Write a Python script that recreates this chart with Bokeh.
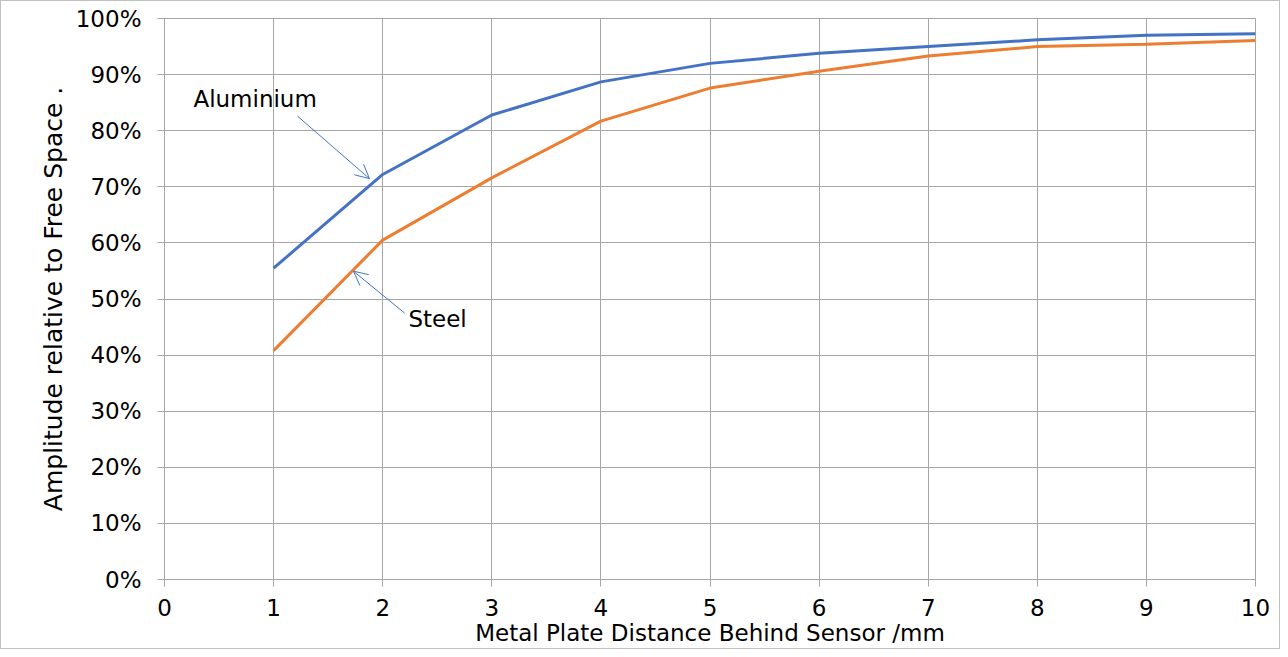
from bokeh.plotting import figure
from bokeh.models import (ColumnDataSource, NumeralTickFormatter, FixedTicker, Range1d,
                          Arrow, OpenHead, Label)
from bokeh.embed import file_html
from bokeh.resources import INLINE

distance_mm = [1, 2, 3, 4, 5, 6, 7, 8, 9, 10]
aluminium = [0.555, 0.722, 0.828, 0.887, 0.920, 0.938, 0.950, 0.962, 0.970, 0.973]
steel = [0.408, 0.605, 0.716, 0.817, 0.876, 0.906, 0.933, 0.950, 0.954, 0.961]
x_ticks = [0, 1, 2, 3, 4, 5, 6, 7, 8, 9, 10]
y_ticks = [0.0, 0.1, 0.2, 0.3, 0.4, 0.5, 0.6, 0.7, 0.8, 0.9, 1.0]

FONT = "DejaVu Sans"
GRID = "#a6a6a6"
BLUE = "#4472C4"
ORANGE = "#ED7D31"

src = ColumnDataSource(dict(x=distance_mm, al=aluminium, st=steel))

p = figure(width=1280, height=649, output_backend="svg", toolbar_location=None,
           x_range=Range1d(0, 10), y_range=Range1d(0, 1),
           min_border_left=163, min_border_right=26, min_border_top=17, min_border_bottom=71)
p.styles = {"border": "1px solid #c0c0c0", "box-sizing": "border-box"}
p.background_fill_color = "white"
p.border_fill_color = "white"
p.outline_line_color = GRID
p.outline_line_width = 1

p.line("x", "al", source=src, line_color=BLUE, line_width=3)
p.line("x", "st", source=src, line_color=ORANGE, line_width=3)

for ax in (p.xaxis[0], p.yaxis[0]):
    ax.axis_line_color = GRID
    ax.major_tick_line_color = GRID
    ax.major_tick_out = 7
    ax.major_tick_in = 0
    ax.minor_tick_line_color = None
    ax.major_label_text_font = FONT
    ax.major_label_text_font_size = "23px"
    ax.major_label_text_color = "black"
    ax.axis_label_text_font = FONT
    ax.axis_label_text_font_style = "normal"
    ax.axis_label_text_color = "black"

p.xaxis.axis_label_text_font_size = "23px"
p.yaxis.axis_label_text_font_size = "25px"
p.xaxis.ticker = FixedTicker(ticks=x_ticks)
p.yaxis.ticker = FixedTicker(ticks=y_ticks)
p.yaxis.formatter = NumeralTickFormatter(format="0%")
p.xaxis.axis_label = "Metal Plate Distance Behind Sensor /mm"
p.yaxis.axis_label = "Amplitude relative to Free Space ."
p.yaxis.major_label_standoff = 16
p.xaxis.major_label_standoff = 12
p.xaxis.axis_label_standoff = 1
p.yaxis.axis_label_standoff = 5

p.xgrid.grid_line_color = GRID
p.ygrid.grid_line_color = GRID
p.xgrid.ticker = FixedTicker(ticks=x_ticks)
p.ygrid.ticker = FixedTicker(ticks=y_ticks)

p.add_layout(Arrow(x_start=1.219, y_start=0.826, x_end=1.879, y_end=0.7145,
                   line_color=BLUE, line_width=1,
                   end=OpenHead(size=14, line_color=BLUE, line_width=1)))
p.add_layout(Arrow(x_start=2.2, y_start=0.475, x_end=1.732, y_end=0.5496,
                   line_color=BLUE, line_width=1,
                   end=OpenHead(size=14, line_color=BLUE, line_width=1)))
p.add_layout(Label(x=0.265, y=0.856, text="Aluminium", text_font=FONT,
                   text_font_size="23px", text_baseline="middle", text_color="black"))
p.add_layout(Label(x=2.236, y=0.4645, text="Steel", text_font=FONT,
                   text_font_size="23px", text_baseline="middle", text_color="black"))

open("out.html", "w").write(file_html(p, INLINE))
